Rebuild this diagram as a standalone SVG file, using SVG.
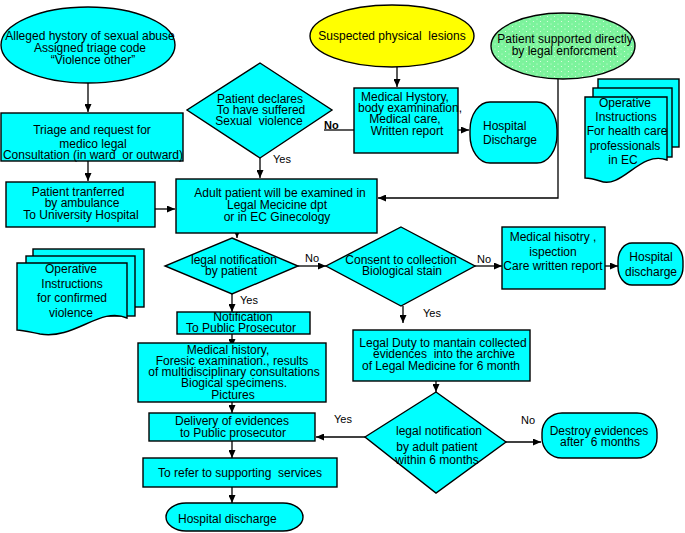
<svg xmlns="http://www.w3.org/2000/svg" width="685" height="533" viewBox="0 0 685 533">
<style>
  .s { fill: #00ffff; stroke: #000; stroke-width: 1.4; }
  .t { font-family: "Liberation Sans", Arial, sans-serif; font-size: 12px; fill: #000; text-anchor: middle; white-space: pre; }
  .l { font-family: "Liberation Sans", Arial, sans-serif; font-size: 11px; fill: #000; }
  .c { fill: none; stroke: #000; stroke-width: 1.3; }
  .a { marker-end: url(#arr); }
</style>
<defs>
  <marker id="arr" markerUnits="userSpaceOnUse" markerWidth="8" markerHeight="7" refX="8" refY="3.5" orient="auto">
    <path d="M0,0 L8,3.5 L0,7 z" fill="#000"/>
  </marker>
  <pattern id="dots" patternUnits="userSpaceOnUse" width="7" height="5">
    <rect width="7" height="5" fill="#7cf39c"/>
    <circle cx="1.5" cy="1.5" r="0.6" fill="#e8ffe8"/>
    <circle cx="5" cy="4" r="0.5" fill="#e8ffe8"/>
  </pattern>
</defs>
<rect width="685" height="533" fill="#fff"/>

<g id="connectors">
  <line class="c a" x1="88" y1="83" x2="88" y2="112"/>
  <line class="c a" x1="88" y1="161" x2="88" y2="181"/>
  <line class="c a" x1="155" y1="209" x2="175" y2="209"/>
  <line class="c a" x1="260" y1="158" x2="260" y2="178"/>
  <line class="c" x1="324" y1="130" x2="354" y2="130"/>
  <line class="c a" x1="397" y1="67" x2="397" y2="87"/>
  <line class="c a" x1="458" y1="130" x2="469" y2="130"/>
  <polyline class="c a" points="558,79 558,198 378,198"/>
  <line class="c a" x1="237" y1="228" x2="237" y2="238"/>
  <line class="c a" x1="298" y1="266" x2="326" y2="266"/>
  <line class="c a" x1="475" y1="266" x2="502" y2="266"/>
  <line class="c a" x1="605" y1="266" x2="618" y2="266"/>
  <line class="c a" x1="403" y1="306" x2="403" y2="323"/>
  <line class="c a" x1="232" y1="294" x2="232" y2="312"/>
  <line class="c a" x1="232" y1="334" x2="232" y2="347"/>
  <line class="c a" x1="232" y1="402" x2="232" y2="413"/>
  <line class="c a" x1="232" y1="441" x2="232" y2="458"/>
  <line class="c a" x1="232" y1="487" x2="232" y2="503"/>
  <line class="c a" x1="436" y1="381" x2="436" y2="392"/>
  <line class="c a" x1="506" y1="442" x2="541" y2="442"/>
  <line class="c a" x1="365" y1="437" x2="316" y2="437"/>
  <text class="l" x="273" y="163">Yes</text>
  <text class="l" x="324" y="129" font-weight="bold">No</text>
  <text class="l" x="305" y="262">No</text>
  <text class="l" x="477" y="263">No</text>
  <text class="l" x="423" y="317">Yes</text>
  <text class="l" x="240" y="304">Yes</text>
  <text class="l" x="334" y="423">Yes</text>
  <text class="l" x="521" y="424">No</text>
</g>

<g id="alleged">
  <ellipse class="s" cx="88" cy="45" rx="87" ry="38"/>
  <text class="t" x="90" y="40">Alleged hystory of sexual abuse</text>
  <text class="t" x="90" y="52">Assigned triage code</text>
  <text class="t" x="93" y="64">“Violence other”</text>
</g>

<g id="triage">
  <rect class="s" x="1" y="113" width="182" height="48"/>
  <text class="t" x="92" y="134">Triage and request for</text>
  <text class="t" x="93" y="148">medico legal</text>
  <text class="t" x="93" y="159">Consultation (in ward  or outward)</text>
</g>

<g id="transfer">
  <rect class="s" x="6" y="182" width="149" height="45"/>
  <text class="t" x="78" y="196">Patient tranferred</text>
  <text class="t" x="82" y="207">by ambulance</text>
  <text class="t" x="81" y="219">To University Hospital</text>
</g>

<g id="declares">
  <polygon class="s" points="260,63 332,110 260,158 187,110"/>
  <text class="t" x="260" y="103">Patient declares</text>
  <text class="t" x="261" y="114">To have suffered</text>
  <text class="t" x="259" y="125">Sexual  violence</text>
</g>

<g id="suspected">
  <ellipse cx="392" cy="36" rx="82" ry="31" fill="#ffff00" stroke="#000" stroke-width="1.4"/>
  <text class="t" x="392" y="40">Suspected physical  lesions</text>
</g>

<g id="medhystory">
  <rect class="s" x="354" y="88" width="104" height="65"/>
  <text class="t" x="405" y="101">Medical Hystory,</text>
  <text class="t" x="410" y="112">body examnination,</text>
  <text class="t" x="405" y="123">Medical care,</text>
  <text class="t" x="407" y="135">Written report</text>
</g>

<g id="discharge1">
  <rect class="s" x="470" y="102" width="87" height="61" rx="20" ry="28"/>
  <text class="t" x="483" y="130" style="text-anchor:start">Hospital</text>
  <text class="t" x="483" y="144" style="text-anchor:start">Discharge</text>
</g>

<g id="legalenf">
  <ellipse cx="563" cy="46" rx="72" ry="33" fill="url(#dots)" stroke="#000" stroke-width="1.4"/>
  <text class="t" x="565" y="43">Patient supported directly</text>
  <text class="t" x="564" y="55">by legal enforcment</text>
</g>

<g id="opinstr1">
  <rect class="s" x="598" y="79" width="81" height="68"/>
  <rect class="s" x="593" y="88" width="79" height="69"/>
  <path class="s" d="M585,97 H667 V160 C640,150 622,190 600,181 C594,179 589,178 585,178 Z"/>
  <text class="t" x="625" y="107">Operative</text>
  <text class="t" x="626" y="121">Instructions</text>
  <text class="t" x="627" y="135">For health care</text>
  <text class="t" x="625" y="150">professionals</text>
  <text class="t" x="623" y="164">in EC</text>
</g>

<g id="adult">
  <rect class="s" x="176" y="179" width="201" height="54"/>
  <text class="t" x="280" y="197">Adult patient will be examined in</text>
  <text class="t" x="277" y="209">Legal Mecicine dpt</text>
  <text class="t" x="277" y="221">or in EC Ginecology</text>
</g>

<g id="opinstr2">
  <rect class="s" x="33" y="249" width="111" height="58"/>
  <rect class="s" x="26" y="256" width="109" height="60"/>
  <path class="s" d="M17,263 H127 V318 C100,306 75,340 40,334 C30,332 22,330 17,330 Z"/>
  <text class="t" x="71" y="273">Operative</text>
  <text class="t" x="72" y="288">Instructions</text>
  <text class="t" x="72" y="302">for confirmed</text>
  <text class="t" x="71" y="317">violence</text>
</g>

<g id="legalnotif">
  <polygon class="s" points="232,238 298,266 232,294 165,266"/>
  <text class="t" x="234" y="264">legal notification</text>
  <text class="t" x="231" y="275">by patient</text>
</g>

<g id="consent">
  <polygon class="s" points="401,227 475,266 401,306 326,266"/>
  <text class="t" x="401" y="264">Consent to collection</text>
  <text class="t" x="402" y="275">Biological stain</text>
</g>

<g id="medhisotry">
  <rect class="s" x="502" y="227" width="103" height="62"/>
  <text class="t" x="553" y="241">Medical hisotry ,</text>
  <text class="t" x="553" y="256">ispection</text>
  <text class="t" x="553" y="270">Care written report</text>
</g>

<g id="discharge2">
  <rect class="s" x="618" y="243" width="65" height="42" rx="14" ry="18"/>
  <text class="t" x="651" y="261">Hospital</text>
  <text class="t" x="651" y="276">discharge</text>
</g>

<g id="notification">
  <rect class="s" x="177" y="312" width="133" height="22"/>
  <text class="t" x="243" y="321">Notification</text>
  <text class="t" x="241" y="332">To Public Prosecutor</text>
</g>

<g id="legalduty">
  <rect class="s" x="353" y="330" width="177" height="51"/>
  <text class="t" x="443" y="347">Legal Duty to mantain collected</text>
  <text class="t" x="444" y="358">evidences  into the archive</text>
  <text class="t" x="441" y="370">of Legal Medicine for 6 month</text>
</g>

<g id="medhistory">
  <rect class="s" x="138" y="343" width="188" height="59"/>
  <text class="t" x="228" y="354">Medical history,</text>
  <text class="t" x="232" y="365">Foresic examination., results</text>
  <text class="t" x="234" y="376">of multidisciplinary consultations</text>
  <text class="t" x="234" y="387">Biogical specimens.</text>
  <text class="t" x="233" y="399">Pictures</text>
</g>

<g id="within6">
  <polygon class="s" points="436,392 506,442 436,493 365,437"/>
  <text class="t" x="439" y="435">legal notification</text>
  <text class="t" x="437" y="451">by adult patient</text>
  <text class="t" x="437" y="464">within 6 months</text>
</g>

<g id="destroy">
  <rect class="s" x="542" y="413" width="115" height="45" rx="20" ry="20"/>
  <text class="t" x="599" y="435">Destroy evidences</text>
  <text class="t" x="600" y="446">after  6 months</text>
</g>

<g id="delivery">
  <rect class="s" x="149" y="413" width="166" height="28"/>
  <text class="t" x="232" y="425">Delivery of evidences</text>
  <text class="t" x="233" y="437">to Public prosecutor</text>
</g>

<g id="refer">
  <rect class="s" x="143" y="458" width="194" height="29"/>
  <text class="t" x="240" y="477">To refer to supporting  services</text>
</g>

<g id="discharge3">
  <rect class="s" x="166" y="503" width="137" height="28" rx="20" ry="14"/>
  <text class="t" x="178" y="523" style="text-anchor:start">Hospital discharge</text>
</g>
</svg>
